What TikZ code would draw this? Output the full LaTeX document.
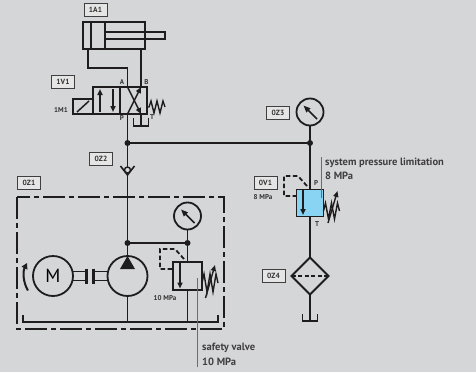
\documentclass[tikz,border=0pt]{standalone}
\usepackage{fontspec}
\setmainfont{PT Sans}
\usetikzlibrary{positioning,calc,arrows.meta,shapes.geometric}

\definecolor{bg}{RGB}{213,214,216}
\definecolor{tagfill}{RGB}{229,229,230}
\definecolor{valveblue}{RGB}{138,212,243}
\definecolor{ink}{RGB}{30,28,28}

\begin{document}
\begin{tikzpicture}[x=1pt,y=-1pt]
\tikzset{pipe/.style={draw=ink,line width=1.8pt},
  tag/.style={draw=ink!85,fill=tagfill,line width=0.8pt,inner sep=0pt,minimum width=23pt,minimum height=13pt,font=\fontsize{7.5}{8}\selectfont\bfseries,text=ink!90},
  port/.style={inner sep=0pt,font=\fontsize{7}{8}\selectfont\bfseries,text=ink!90},
  junc/.style={circle,fill=ink,inner sep=0pt,minimum size=6pt},
  gauge/.style={circle,draw=ink,line width=1.8pt,inner sep=0pt,outer sep=0pt,minimum size=27pt},
  vbox/.style={draw=ink,line width=1.8pt,inner sep=0pt,outer sep=0pt,minimum width=27pt,minimum height=27pt},
  pilot/.style={draw=ink,line width=1.8pt,dash pattern=on 4.5pt off 2.5pt},
  frame/.style={draw=ink,line width=2pt,dash pattern=on 22pt off 4pt on 5pt off 4pt},
  note/.style={anchor=west,inner sep=0pt,font=\fontsize{10.5}{12}\selectfont\bfseries,text=ink!85},
  lead/.style={draw=ink!65,line width=0.7pt},
  tip/.style={-{Triangle[length=6pt,width=5pt]}}}

 \fill[bg] (0,0) rectangle (476,372);
 \useasboundingbox (0,0) rectangle (476,372);

  % tags
  \node[tag] (t1a1) at (95.5,9.5)  {1A1};
  \node[tag] (t1v1) at (63,81.5)   {1V1};
  \node[tag] (t0z3) at (278,113)   {0Z3};
  \node[tag] (t0z2) at (101,159)   {0Z2};
  \node[tag] (t0z1) at (29,183)    {0Z1};
  \node[tag] (t0v1) at (265.5,183) {0V1};
  \node[tag] (t0z4) at (273.5,276) {0Z4};

  % cylinder 1A1
  \draw[pipe] (83,22) rectangle (145,49);
  \draw[pipe] (91,22) -- (91,49) (105,22) -- (105,49);
  \draw[pipe] (105,32) rectangle (165,39);
  \coordinate (cylA) at (88,49);
  \coordinate (cylB) at (141,49);
  \coordinate (bend) at (88,68);

  % valve 1V1
  \node[vbox] (va) at (106.5,100.5) {};
  \node[vbox] (vb) at (133.5,100.5) {};
  \node[vbox,minimum width=20pt,minimum height=15pt,anchor=south east] (sol) at (va.south west) {};
  \draw[pipe,line width=1.5pt] ([shift={(4,-2)}]sol.south west) -- ([shift={(-4,2)}]sol.north east);
  \coordinate (A) at (127.5,87);
  \coordinate (B) at (141,87);
  \coordinate (P) at (127.5,114);
  \coordinate (T) at (141,114);
  \draw[pipe,line width=1.5pt,tip] (100,112) -- (100,89);
  \draw[pipe,line width=1.5pt,tip] (113,89) -- (113,112);
  \draw[pipe,line width=1.5pt,tip] (P) -- (B);
  \draw[pipe,line width=1.5pt,tip] (A) -- (T);
  \draw[pipe,line width=1.4pt] (vb.east |- 0,107) -- ++(2,0) -- ++(2,-6) -- ++(3,12) -- ++(3,-12)
    -- ++(3,12) -- ++(3,-12) -- ++(2,6);
  \node[port] (lA) at (122,82) {A};
  \node[port] (lB) at (146.5,82) {B};
  \node[port] (lP) at (122,118) {P};
  \node[port] (lT) at (152,117.5) {T};
  \node[port] (l1m1) at (61,110) {1M1};

  \draw[pipe] (cylA) -- (bend) -| (A);
  \draw[pipe] (cylB) -- (B);
  \draw[pipe] (T) -- ++(0,12);
  \draw[pipe] ($(T)+(-7.5,4)$) -- ++(0,8) -- ++(15,0) -- ++(0,-8);

  % main line
  \coordinate (j1) at (127.5,143);
  \coordinate (j2) at (127.5,243);
  \coordinate (j3) at (187.5,243);
  \coordinate (j4) at (310,143);
  \node[circle,draw=ink,fill=bg,line width=1.4pt,minimum size=6pt,inner sep=0pt,outer sep=0pt] (cv) at (127.5,170) {};
  \draw[pipe,line width=1.6pt] (120.5,166) -- (127.5,175) -- (134.5,166);
  \draw[pipe] (P) -- (j1) -- (cv) -- (j2);
  \draw[pipe] (j1) -- (j4);

  % gauge 0Z3 and valve 0V1
  \node[gauge] (g3) at (310,112) {};
  \draw[ink,line width=1.5pt,-{Triangle[length=7pt,width=5.5pt]}] ($(g3)+(7,7)$) -- ($(g3)+(-6.5,-6.5)$);
  \node[vbox,fill=valveblue] (v1) at (310,203) {};
  \draw[pipe] (g3) -- (j4) -- (v1);
  \draw[pipe,line width=1.5pt,tip] ($(v1.north)+(-7,0)$) -- ($(v1.south)+(-7,-1.5)$);
  \draw[pilot] (307,186) -- (298,176) -- (284,176) -- (284,196) -- (v1.west |- 0,196);
  \draw[pipe,line width=1.4pt] (v1.east |- 0,211) -- ++(2,-8) -- ++(3,16) -- ++(3,-16) -- ++(3,16) -- ++(3,-16) -- ++(2,8);
  \draw[ink,line width=1.4pt,tip] (328,223) -- (337.5,191);
  \node[port] (lP2) at (316,183) {P};
  \node[port] (lT2) at (317,224.5) {T};
  \node[port] (l8) at (263,197) {8 MPa};

  % filter 0Z4
  \node[diamond,draw=ink,line width=1.8pt,aspect=1,minimum size=37pt,inner sep=0pt,outer sep=0pt] (filt) at (310,276) {};
  \draw[pipe,dash pattern=on 4pt off 2.5pt] (filt.west) -- (filt.east);
  \coordinate (tankR) at (310,321);
  \draw[pipe] (v1) -- (filt);
  \draw[pipe] (filt) -- (tankR);
  \draw[pipe] (302.5,314) -- (302.5,321) -- (317.5,321) -- (317.5,314);

  % power unit 0Z1
  \draw[frame] (17,197) rectangle (224,329);
  \node[circle,draw=ink,line width=1.8pt,minimum size=40pt,inner sep=0pt,outer sep=0pt] (pump) at (127.5,276) {};
  \fill[ink] (pump.north) -- ++(-7.5,13) -- ++(15,0) -- cycle;
  \node[circle,draw=ink,line width=1.8pt,minimum size=40pt,inner sep=0pt,outer sep=0pt,
        font=\fontsize{19}{19}\selectfont] (motor) at (53,276) {M};
  \draw[ink,line width=2pt,-{Triangle[length=6pt,width=6pt]}] (motor.center) ++(150:29) arc[start angle=150,end angle=207,radius=29];
  \draw[ink,line width=1.5pt] ($(motor.east)+(0,-4.5)$) -- ++(13,0) ($(motor.east)+(0,4.5)$) -- ++(13,0)
    ($(pump.west)+(0,-4.5)$) -- ++(-13,0) ($(pump.west)+(0,4.5)$) -- ++(-13,0);
  \draw[ink,line width=2.5pt] (86.5,268.5) -- (86.5,283.5) (93.5,268.5) -- (93.5,283.5);

  \node[gauge] (g2) at (187.5,216) {};
  \draw[ink,line width=1.5pt,-{Triangle[length=7pt,width=5.5pt]}] ($(g2)+(7,7)$) -- ($(g2)+(-6.5,-6.5)$);
  \node[vbox,minimum width=29pt,minimum height=28pt] (rv) at (187.5,276) {};
  \draw[pipe] (j2) -- (pump);
  \draw[pipe] (j2) -- (j3);
  \draw[pipe] (g2) -- (j3) -- (rv);
  \draw[pipe,line width=1.5pt,tip] ($(rv.north)+(-7.5,0)$) -- ($(rv.south)+(-7.5,-1.5)$);
  \draw[pilot] (184,259) -- (175,249) -- (160,249) -- (160,269) -- (rv.west |- 0,269);
  \draw[pipe,line width=1.4pt] (rv.east |- 0,283) -- ++(2,-9) -- ++(3,18) -- ++(3,-18) -- ++(3,18) -- ++(3,-18) -- ++(2,9);
  \draw[ink,line width=1.4pt,tip] (205.5,298) -- (215,265);
  \node[port] (l10) at (165,298) {10 MPa};

  \coordinate (tankL) at (23,322);
  \draw[pipe] (23,315) -- (tankL) -- (218,322) -- (218,315);
  \draw[pipe] (pump.south) -- (pump.south |- tankL);
  \draw[pipe] (rv.south) -- (rv.south |- tankL);

  \foreach \j in {j1,j2,j3,j4}
    \node[junc] at (\j) {};

  % notes
  \draw[lead] (321,157) -- (321,198);
  \node[note] (n1) at (325,162.5) {system pressure limitation};
  \node[note] (n2) at (325,176) {8 MPa};
  \draw[lead] (197,278) -- (197,367);
  \node[note] (n3) at (202,347.5) {safety valve};
  \node[note] (n4) at (202,362) {10 MPa};
\end{tikzpicture}
\end{document}
